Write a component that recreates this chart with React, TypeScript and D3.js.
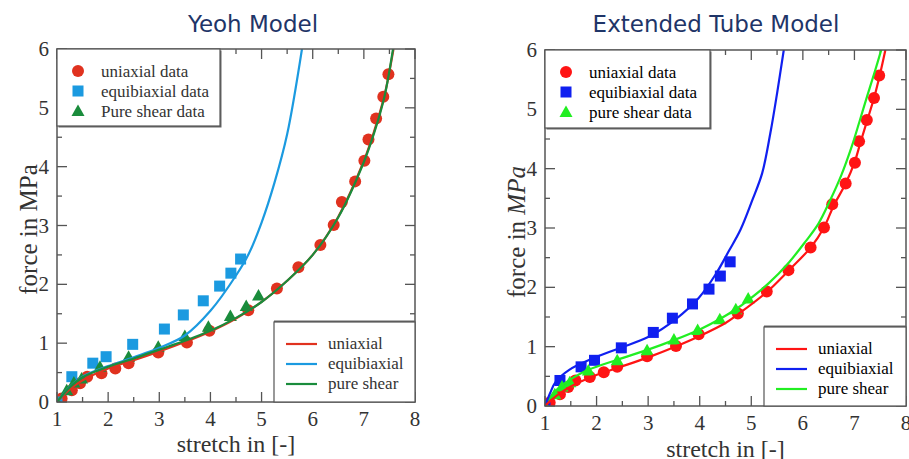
import * as d3 from 'd3';
import React from 'react';

const width = 909;
const height = 459;

// measured data (stretch, force in MPa)
const uniaxialData: [number, number][] = [
	[1.0, 0.0], [1.09, 0.06], [1.29, 0.2], [1.45, 0.32], [1.59, 0.43], [1.87, 0.49],
	[2.14, 0.57], [2.4, 0.66], [2.98, 0.84], [3.54, 1.01], [3.98, 1.21], [4.74, 1.56],
	[5.3, 1.93], [5.72, 2.29], [6.15, 2.67], [6.41, 3.01], [6.57, 3.4], [6.83, 3.75],
	[7.01, 4.1], [7.09, 4.46], [7.24, 4.82], [7.38, 5.19], [7.48, 5.57],
];
const equibiaxialData: [number, number][] = [
	[1.0, 0.0], [1.29, 0.43], [1.7, 0.66], [1.96, 0.77], [2.48, 0.98], [3.1, 1.24],
	[3.47, 1.48], [3.86, 1.72], [4.18, 1.97], [4.4, 2.19], [4.59, 2.43],
];
const shearData: [number, number][] = [
	[1.0, 0.0], [1.19, 0.2], [1.33, 0.33], [1.48, 0.4], [1.84, 0.6], [2.4, 0.77],
	[2.98, 0.94], [3.5, 1.12], [3.96, 1.28], [4.39, 1.46], [4.7, 1.63], [4.94, 1.81],
];

// model curves
const yeohUniaxial: [number, number][] = [
	[1, 0], [1.25, 0.22], [1.5, 0.37], [2, 0.57], [2.5, 0.71], [3, 0.86], [3.5, 1.02],
	[4, 1.2], [4.5, 1.42], [5, 1.7], [5.5, 2.06], [6, 2.5], [6.5, 3.15], [7, 4.1],
	[7.2, 4.6], [7.4, 5.2], [7.58, 6.0],
];
const yeohEquibiaxial: [number, number][] = [
	[1, 0], [1.25, 0.26], [1.5, 0.43], [2, 0.61], [2.5, 0.76], [3, 0.92], [3.5, 1.13],
	[4, 1.55], [4.5, 2.15], [4.75, 2.52], [5, 3.05], [5.25, 3.72], [5.5, 4.55], [5.79, 6.0],
];
const yeohShear: [number, number][] = [
	[1, 0], [1.25, 0.25], [1.5, 0.42], [2, 0.6], [2.5, 0.74], [3, 0.89], [3.5, 1.04],
	[4, 1.21], [4.5, 1.43], [5, 1.7], [5.5, 2.06], [6, 2.5], [6.5, 3.14], [7, 4.08],
	[7.2, 4.57], [7.4, 5.18], [7.57, 6.0],
];
const tubeUniaxial: [number, number][] = [
	[1, 0], [1.15, 0.12], [1.3, 0.22], [1.5, 0.33], [1.9, 0.49], [2.4, 0.64], [3, 0.82],
	[3.5, 0.99], [4, 1.18], [4.5, 1.4], [4.75, 1.55], [5.3, 1.92], [5.72, 2.28],
	[6.15, 2.67], [6.41, 3.01], [6.6, 3.38], [6.83, 3.75], [7.0, 4.1], [7.12, 4.45],
	[7.25, 4.82], [7.38, 5.19], [7.49, 5.57], [7.6, 6.0],
];
const tubeEquibiaxial: [number, number][] = [
	[1, 0], [1.1, 0.22], [1.21, 0.41], [1.47, 0.61], [1.92, 0.8], [2.43, 0.97], [3.02, 1.17],
	[3.53, 1.46], [3.98, 1.82], [4.31, 2.22], [4.57, 2.62], [4.79, 2.97], [5.02, 3.47],
	[5.21, 3.92], [5.37, 4.6], [5.5, 5.27], [5.63, 6.0],
];
const tubeShear: [number, number][] = [
	[1, 0], [1.15, 0.2], [1.3, 0.33], [1.48, 0.44], [1.84, 0.61], [2.4, 0.78], [3, 0.95],
	[3.5, 1.11], [4, 1.29], [4.4, 1.47], [4.7, 1.63], [4.95, 1.79], [5.34, 2.07],
	[5.73, 2.42], [6.05, 2.77], [6.3, 3.07], [6.52, 3.45], [6.75, 3.9], [6.95, 4.38],
	[7.1, 4.8], [7.25, 5.23], [7.4, 5.65], [7.52, 6.0],
];

const xTicks = [1, 2, 3, 4, 5, 6, 7, 8];
const yTicks = [0, 1, 2, 3, 4, 5, 6];
const dataLabels = ['uniaxial data', 'equibiaxial data', 'Pure shear data'];
const dataLabelsTube = ['uniaxial data', 'equibiaxial data', 'pure shear data'];
const modelLabels = ['uniaxial', 'equibiaxial', 'pure shear'];

const serif = '"Liberation Serif", "Times New Roman", serif';
const axisColor = '#555';

interface PanelProps {
	id: string;
	title: string;
	titleX: number;
	box: { left: number; right: number; top: number; bottom: number };
	colors: string[];
	curves: [number, number][][];
	curveOrder: number[];
	labels: string[];
	italicUnit: boolean;
	topLegend: { x: number; y: number; w: number; h: number };
	bottomLegend: { x: number; y: number; w: number; h: number };
	yLabelX: number;
	xLabelY: number;
	tickLabelDy: number;
	legendText: string;
}

const Marker = ({ kind, x, y, color }: { kind: number; x: number; y: number; color: string }) => {
	if (kind === 0) return <circle cx={x} cy={y} r={6} fill={color} />;
	if (kind === 1) return <rect x={x - 5.5} y={y - 5.5} width={11} height={11} fill={color} />;
	return <path d={`M${x},${y - 6.5}L${x + 6.5},${y + 5}L${x - 6.5},${y + 5}Z`} fill={color} />;
};

const Panel = (p: PanelProps) => {
	const { box } = p;
	const xScale = d3.scaleLinear().domain([1, 8]).range([box.left, box.right]);
	const yScale = d3.scaleLinear().domain([0, 6]).range([box.bottom, box.top]);
	const line = d3
		.line<[number, number]>()
		.x(d => xScale(d[0]))
		.y(d => yScale(d[1]))
		.curve(d3.curveCatmullRom);
	const minorX = xScale.ticks(14);
	const minorY = yScale.ticks(12);
	const isMajor = (v: number) => Math.abs(v - Math.round(v)) < 1e-6;
	const datasets = [uniaxialData, equibiaxialData, shearData];
	const tl = p.topLegend;
	const bl = p.bottomLegend;

	return (
		<g>
			<defs>
				<clipPath id={`clip-${p.id}`}>
					<rect x={box.left} y={box.top} width={box.right - box.left} height={box.bottom - box.top} />
				</clipPath>
			</defs>
			<text
				x={p.titleX}
				y={32}
				textAnchor="middle"
				fontFamily='"DejaVu Sans", Verdana, sans-serif'
				fontSize={23}
				fill="#1f3568"
			>
				{p.title}
			</text>

			{/* ticks on all four sides, pointing inwards */}
			{minorX.map(v => {
				const len = isMajor(v) ? 10 : 5;
				return (
					<g key={`x${v}`} stroke={axisColor} strokeWidth={1.3}>
						<line x1={xScale(v)} x2={xScale(v)} y1={box.bottom} y2={box.bottom - len} />
						<line x1={xScale(v)} x2={xScale(v)} y1={box.top} y2={box.top + len} />
					</g>
				);
			})}
			{minorY.map(v => {
				const len = isMajor(v) ? 10 : 5;
				return (
					<g key={`y${v}`} stroke={axisColor} strokeWidth={1.3}>
						<line x1={box.left} x2={box.left + len} y1={yScale(v)} y2={yScale(v)} />
						<line x1={box.right} x2={box.right - len} y1={yScale(v)} y2={yScale(v)} />
					</g>
				);
			})}

			{xTicks.map(v => (
				<text key={`xl${v}`} x={xScale(v)} y={box.bottom + p.tickLabelDy} textAnchor="middle" fontFamily={serif} fontSize={21} fill="#333">
					{v}
				</text>
			))}
			{yTicks.map(v => (
				<text key={`yl${v}`} x={box.left - 8} y={yScale(v) + 7} textAnchor="end" fontFamily={serif} fontSize={21} fill="#333">
					{v}
				</text>
			))}

			<text
				transform={`translate(${p.yLabelX},${(box.top + box.bottom) / 2 + 4}) rotate(-90)`}
				textAnchor="middle"
				fontFamily={serif}
				fontSize={25}
				fill="#333"
			>
				force in {p.italicUnit ? <tspan fontStyle="italic">MPa</tspan> : 'MPa'}
			</text>
			<text
				x={(box.left + box.right) / 2}
				y={p.xLabelY}
				textAnchor="middle"
				fontFamily={serif}
				fontSize={24}
				fill="#333"
			>
				stretch in [-]
			</text>

			<g clipPath={`url(#clip-${p.id})`}>
				{datasets.map((ds, k) =>
					ds.map((d, i) => (
						<Marker key={`m${k}-${i}`} kind={k} x={xScale(d[0])} y={yScale(d[1])} color={p.colors[k]} />
					)),
				)}
				{p.curveOrder.map(k => (
					<path key={`c${k}`} d={line(p.curves[k]) || ''} fill="none" stroke={p.colors[k]} strokeWidth={2.2} />
				))}
			</g>

			<rect x={box.left} y={box.top} width={box.right - box.left} height={box.bottom - box.top} fill="none" stroke={axisColor} strokeWidth={1.5} />

			{/* data legend */}
			<rect x={tl.x + 1.5} y={tl.y + 1.5} width={tl.w} height={tl.h} fill="#666" />
			<rect x={tl.x} y={tl.y} width={tl.w} height={tl.h} fill="#fff" stroke={axisColor} strokeWidth={1.2} />
			{p.labels.map((lab, k) => (
				<g key={`tl${k}`}>
					<Marker kind={k} x={tl.x + 21} y={tl.y + 22 + k * 20} color={p.colors[k]} />
					<text x={tl.x + 44} y={tl.y + 28 + k * 20} fontFamily={serif} fontSize={17} fill={p.legendText}>
						{lab}
					</text>
				</g>
			))}

			{/* model legend */}
			<rect x={bl.x} y={bl.y - 1.5} width={bl.w} height={bl.h + 1.5} fill="#666" />
			<rect x={bl.x} y={bl.y} width={bl.w} height={bl.h} fill="#fff" stroke={axisColor} strokeWidth={1.2} />
			{modelLabels.map((lab, k) => (
				<g key={`bl${k}`}>
					<line x1={bl.x + 12} x2={bl.x + 43} y1={bl.y + 22 + k * 20} y2={bl.y + 22 + k * 20} stroke={p.colors[k]} strokeWidth={2.2} />
					<text x={bl.x + 54} y={bl.y + 27 + k * 20} fontFamily={serif} fontSize={17} fill={p.legendText}>
						{lab}
					</text>
				</g>
			))}
		</g>
	);
};

const App = () => {
	return (
		<svg width={width} height={height} style={{ position: 'absolute', left: 0, top: 0, background: '#fff' }}>
			<Panel
				id="yeoh"
				title="Yeoh Model"
				titleX={253}
				box={{ left: 57, right: 415, top: 49, bottom: 402 }}
				colors={['#e0321f', '#1b9ae0', '#1a8c3c']}
				curves={[yeohUniaxial, yeohEquibiaxial, yeohShear]}
				curveOrder={[0, 1, 2]}
				labels={dataLabels}
				italicUnit={false}
				topLegend={{ x: 57, y: 49, w: 163, h: 77 }}
				bottomLegend={{ x: 274, y: 322, w: 141, h: 80 }}
				yLabelX={37}
				xLabelY={452}
				tickLabelDy={24}
				legendText="#333"
			/>
			<Panel
				id="tube"
				title="Extended Tube Model"
				titleX={716}
				box={{ left: 545, right: 906, top: 50, bottom: 406 }}
				colors={['#ff1414', '#1020f0', '#22ee22']}
				curves={[tubeUniaxial, tubeEquibiaxial, tubeShear]}
				curveOrder={[2, 1, 0]}
				labels={dataLabelsTube}
				italicUnit={true}
				topLegend={{ x: 545, y: 50, w: 165, h: 78 }}
				bottomLegend={{ x: 764, y: 327, w: 142, h: 79 }}
				yLabelX={525}
				xLabelY={457}
				tickLabelDy={24}
				legendText="#000"
			/>
		</svg>
	);
};

export default App;
